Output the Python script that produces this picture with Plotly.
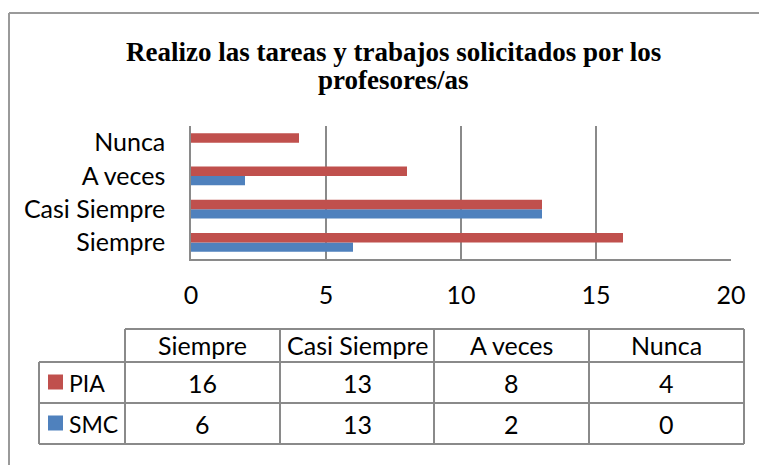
import plotly.graph_objects as go

# data
categories = ["Siempre", "Casi Siempre", "A veces", "Nunca"]
pia = [16, 13, 8, 4]
smc = [6, 13, 2, 0]
series_names = ["PIA", "SMC"]
x_ticks = [0, 5, 10, 15, 20]
title_lines = ["Realizo las tareas y trabajos solicitados por los", "profesores/as"]

RED = "#C0504D"
BLUE = "#4F81BD"
GRID = "#8A8A8A"
FONT = "Lato"
FS = 25

W, H = 760, 465
L, R, T, B = 191, 29, 126, 206


def px(x):
    # figure pixel -> paper x
    return (x - L) / (W - L - R)


def py(y):
    # figure pixel (from top) -> paper y
    return (H - B - y) / (H - T - B)


fig = go.Figure()
# SMC first so it sits below PIA in each group
fig.add_trace(go.Bar(y=categories, x=smc, name="SMC", orientation="h",
                     marker=dict(color=BLUE, line=dict(width=0))))
fig.add_trace(go.Bar(y=categories, x=pia, name="PIA", orientation="h",
                     marker=dict(color=RED, line=dict(width=0))))

fig.update_layout(
    width=W, height=H,
    margin=dict(l=L, r=R, t=T, b=B),
    paper_bgcolor="white", plot_bgcolor="white",
    barmode="group", bargap=0.43, bargroupgap=0,
    showlegend=False,
    font=dict(family=FONT, size=FS, color="black"),
)
fig.update_xaxes(
    range=[0, 20], tickvals=x_ticks, showgrid=True, gridcolor=GRID, gridwidth=1.5,
    showline=True, linecolor=GRID, linewidth=1.5, zeroline=False,
    ticks="", ticklabelstandoff=13, tickfont=dict(family=FONT, size=FS),
)
fig.update_yaxes(
    categoryorder="array", categoryarray=categories,
    showgrid=False, showline=True, linecolor=GRID, linewidth=1.5,
    ticks="", ticklabelstandoff=19, tickfont=dict(family=FONT, size=FS),
)

shapes = []


def hline(x0, x1, y, color=GRID, w=2):
    shapes.append(dict(type="line", xref="paper", yref="paper",
                       x0=px(x0), x1=px(x1), y0=py(y), y1=py(y),
                       line=dict(color=color, width=w)))


def vline(x, y0, y1, color=GRID, w=2):
    shapes.append(dict(type="line", xref="paper", yref="paper",
                       x0=px(x), x1=px(x), y0=py(y0), y1=py(y1),
                       line=dict(color=color, width=w)))


# outer chart border
hline(9, 759, 13, color="#9A9A9A")
vline(9, 13, 470, color="#9A9A9A")

# data table grid
col_x = [125, 280, 434, 589, 744]
row_y = [329, 362, 403, 444]
hline(col_x[0], col_x[-1], row_y[0])
for y in row_y[1:]:
    hline(39, col_x[-1], y)
vline(39, row_y[1], row_y[-1])
for x in col_x:
    vline(x, row_y[0], row_y[-1])

annotations = []


def label(x, y, text, anchor="center", family=FONT, size=FS):
    annotations.append(dict(xref="paper", yref="paper", x=px(x), y=py(y),
                            text=text, showarrow=False, xanchor=anchor,
                            yanchor="middle",
                            font=dict(family=family, size=size, color="black")))


# title, two lines
label(393, 52, "<b>%s</b>" % title_lines[0], family="Liberation Serif", size=27)
label(393, 80, "<b>%s</b>" % title_lines[1], family="Liberation Serif", size=27)

for i, cat in enumerate(categories):
    cx = (col_x[i] + col_x[i + 1]) / 2
    label(cx, 345, cat)
    label(cx, 383, str(pia[i]))
    label(cx, 424, str(smc[i]))

for name, color, yc in [(series_names[0], RED, 382), (series_names[1], BLUE, 423)]:
    shapes.append(dict(type="rect", xref="paper", yref="paper",
                       x0=px(48), x1=px(63), y0=py(yc - 7.5), y1=py(yc + 7.5),
                       fillcolor=color, line=dict(width=0)))
    label(67, yc + 1, name, anchor="left", size=23)

fig.update_layout(shapes=shapes, annotations=annotations)

fig.write_html("out.html", config={"displayModeBar": False},
               post_script="document.body.style.margin='0';")
